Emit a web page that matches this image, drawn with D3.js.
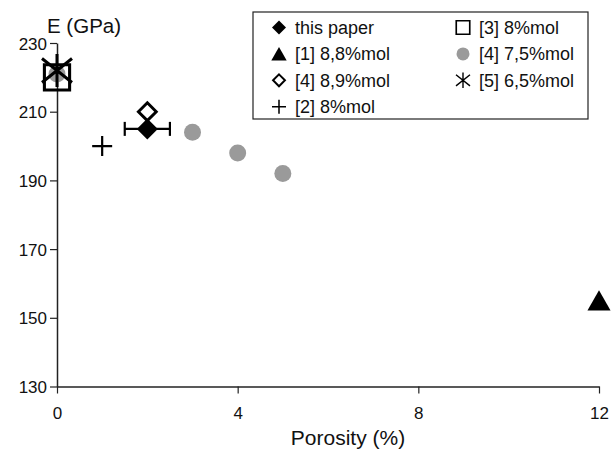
<!DOCTYPE html>
<html>
<head>
<meta charset="utf-8">
<script src="https://cdn.jsdelivr.net/npm/d3@7"></script>
<style>
  body { margin: 0; background: #fff; }
  svg { font-family: "Liberation Sans", Arial, sans-serif; }
</style>
</head>
<body>
<svg id="chart" width="611" height="458"></svg>
<script>
// data
const thisPaper = [{ x: 2, y: 205, err: 0.5 }];
const ref1 = [{ x: 12, y: 155 }];
const ref4b = [{ x: 2, y: 210 }];
const ref2 = [{ x: 1, y: 200 }];
const ref3 = [{ x: 0, y: 220 }];
const ref4a = [{ x: 0, y: 221 }, { x: 3, y: 204 }, { x: 4, y: 198 }, { x: 5, y: 192 }];
const ref5 = [{ x: 0, y: 222 }];

const xTicks = [0, 4, 8, 12];
const yTicks = [130, 150, 170, 190, 210, 230];

const svg = d3.select("#chart");
const margin = { top: 43, right: 12, bottom: 71, left: 57 };

const x = d3.scaleLinear().domain([0, 12]).range([margin.left, 599]);
const y = d3.scaleLinear().domain([130, 230]).range([386.5, margin.top]);

const axisColor = "#222";

// axes
const xAxis = svg.append("g")
  .attr("transform", `translate(0,${y(130)})`)
  .call(d3.axisBottom(x).tickValues(xTicks).tickSize(7).tickSizeOuter(0).tickFormat(d3.format("d")));
const yAxis = svg.append("g")
  .attr("transform", `translate(${x(0)},0)`)
  .call(d3.axisLeft(y).tickValues(yTicks).tickSize(7).tickSizeOuter(0).tickFormat(d3.format("d")));

[xAxis, yAxis].forEach((g) => {
  g.select(".domain").attr("stroke", axisColor).attr("stroke-width", 1.5);
  g.selectAll(".tick line").attr("stroke", axisColor).attr("stroke-width", 1.2);
  g.selectAll(".tick text")
    .attr("fill", "#111")
    .style("font-size", "17px")
    .style("font-family", "Liberation Sans, Arial, sans-serif");
});
xAxis.selectAll(".tick text").attr("dy", "1.35em");
yAxis.selectAll(".tick text").attr("x", -10).attr("dy", "0.36em");

svg.append("text")
  .attr("x", 47)
  .attr("y", 33)
  .style("font-size", "20.5px")
  .attr("fill", "#111")
  .text("E (GPa)");

svg.append("text")
  .attr("x", 348)
  .attr("y", 445)
  .attr("text-anchor", "middle")
  .style("font-size", "21px")
  .attr("fill", "#111")
  .text("Porosity (%)");

// marker shapes, s = half size
const shapes = {
  diamond: (s) => `M0,${-s}L${s},0L0,${s}L${-s},0Z`,
  triangle: (s) => `M0,${-s}L${s * 1.1},${s * 0.95}L${-s * 1.1},${s * 0.95}Z`,
  square: (s) => `M${-s},${-s}H${s}V${s}H${-s}Z`,
  plus: (s) => `M${-s},0H${s}M0,${-s}V${s}`,
  star: (s) => `M${-s},${-s * 0.8}L${s},${s * 0.8}M${-s},${s * 0.8}L${s},${-s * 0.8}M0,${-s * 1.1}V${s * 1.1}`
};

function drawMarker(g, kind, s) {
  if (kind === "circle") {
    g.append("circle").attr("r", s).attr("fill", "#9a9a9a");
  } else if (kind === "filledDiamond") {
    g.append("path").attr("d", shapes.diamond(s)).attr("fill", "#000");
  } else if (kind === "openDiamond") {
    g.append("path").attr("d", shapes.diamond(s * 0.85)).attr("fill", "#fff")
      .attr("stroke", "#000").attr("stroke-width", s * 0.28);
  } else if (kind === "triangle") {
    g.append("path").attr("d", shapes.triangle(s)).attr("fill", "#000");
  } else if (kind === "square") {
    g.append("path").attr("d", shapes.square(s * 0.9)).attr("fill", "none")
      .attr("stroke", "#000").attr("stroke-width", s * 0.22);
  } else if (kind === "plus") {
    g.append("path").attr("d", shapes.plus(s)).attr("fill", "none")
      .attr("stroke", "#000").attr("stroke-width", s * 0.22);
  } else if (kind === "star") {
    g.append("path").attr("d", shapes.star(s)).attr("fill", "none")
      .attr("stroke", "#000").attr("stroke-width", s * 0.2);
  }
}

const series = [
  { data: ref4a, kind: "circle", size: 8.5 },
  { data: ref3, kind: "square", size: 14 },
  { data: ref5, kind: "star", size: 15 },
  { data: ref2, kind: "plus", size: 10 },
  { data: ref4b, kind: "openDiamond", size: 10.5 },
  { data: thisPaper, kind: "filledDiamond", size: 10.5 },
  { data: ref1, kind: "triangle", size: 10.5 }
];

// error bar for this paper
const eb = svg.append("g").attr("stroke", "#000").attr("stroke-width", 2.2);
thisPaper.forEach((d) => {
  eb.append("line").attr("x1", x(d.x - d.err)).attr("x2", x(d.x + d.err))
    .attr("y1", y(d.y)).attr("y2", y(d.y));
  [d.x - d.err, d.x + d.err].forEach((v) => {
    eb.append("line").attr("x1", x(v)).attr("x2", x(v))
      .attr("y1", y(d.y) - 7).attr("y2", y(d.y) + 7);
  });
});

series.forEach((s) => {
  svg.append("g").selectAll("g")
    .data(s.data)
    .enter()
    .append("g")
    .attr("transform", (d) => `translate(${x(d.x)},${y(d.y)})`)
    .each(function () { drawMarker(d3.select(this), s.kind, s.size); });
});

// legend
const legend = svg.append("g");
legend.append("rect")
  .attr("x", 253).attr("y", 12)
  .attr("width", 335).attr("height", 107)
  .attr("fill", "#fff").attr("stroke", "#222").attr("stroke-width", 1.2);

const legendItems = [
  { kind: "filledDiamond", size: 7, label: "this paper", col: 0, row: 0 },
  { kind: "triangle", size: 7, label: "[1] 8,8%mol", col: 0, row: 1 },
  { kind: "openDiamond", size: 7, label: "[4] 8,9%mol", col: 0, row: 2 },
  { kind: "plus", size: 7, label: "[2] 8%mol", col: 0, row: 3 },
  { kind: "square", size: 7.5, label: "[3] 8%mol", col: 1, row: 0 },
  { kind: "circle", size: 6.5, label: "[4] 7,5%mol", col: 1, row: 1 },
  { kind: "star", size: 7, label: "[5] 6,5%mol", col: 1, row: 2 }
];

const colX = [279, 463];
legendItems.forEach((it) => {
  const cy = 27.5 + it.row * 26.4;
  const g = legend.append("g").attr("transform", `translate(${colX[it.col]},${cy})`);
  drawMarker(g, it.kind, it.size);
  legend.append("text")
    .attr("x", colX[it.col] + 16)
    .attr("y", cy)
    .attr("dy", "0.36em")
    .style("font-size", "18px")
    .attr("fill", "#111")
    .text(it.label);
});
</script>
</body>
</html>
